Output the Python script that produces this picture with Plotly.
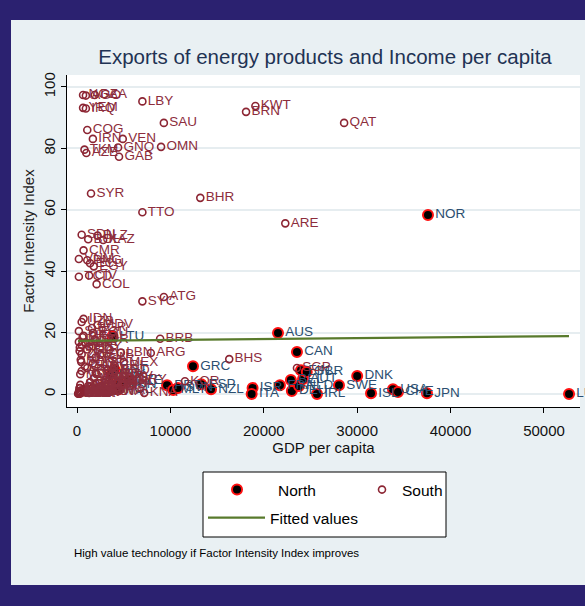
import plotly.graph_objects as go

# ---- data -------------------------------------------------------------
north_codes = ["NOR", "AUS", "CAN", "GRC", "LTU", "EST", "SVK", "CZE", "HUN", "POL",
               "PRT", "MLT", "SVN", "ESP", "NZL", "ISR", "ITA", "FRA", "DEU", "NLD",
               "AUT", "FIN", "GBR", "BEL", "IRL", "SWE", "DNK", "ISL", "USA", "CHE",
               "JPN", "LUX"]
north_gdp = [37580, 21520, 23550, 12420, 3800, 4000, 3700, 5500, 4600, 4400,
             9640, 10300, 10810, 13300, 14350, 18800, 18700, 21730, 23000, 23770,
             24200, 23980, 24600, 22900, 25700, 28050, 30000, 31480, 33830, 34370,
             37470, 52680]
north_fii = [58.3, 19.9, 13.7, 9.1, 18.8, 8.0, 6.5, 4.5, 3.2, 1.5,
             2.9, 1.3, 2.0, 3.2, 1.6, 2.0, 0.0, 2.9, 1.0, 2.6,
             4.9, 7.8, 7.2, 4.6, 0.0, 2.9, 5.9, 0.3, 1.6, 0.7,
             0.3, 0.0]

south_codes = ["NGA", "AGO", "DZA", "YEM", "IRQ", "LBY", "BRN", "KWT", "QAT", "SAU",
               "COG", "IRN", "VEN", "GNQ", "OMN", "GAB", "TKM", "AZE", "SYR", "BHR",
               "TTO", "ARE", "SDN", "BOL", "BLZ", "KAZ", "CMR", "VNM", "PNG", "ECU",
               "EGY", "TCD", "CIV", "COL", "SYC", "ATG", "BRB", "ARG", "BHS", "MEX",
               "KOR", "SGP", "KNA",
               "IDN", "UZB", "MDV", "BGR", "ROU", "UKR", "SLE", "GEO", "MOZ", "PAK",
               "KGZ", "BLR", "ZWE", "TUN", "MNG", "SEN", "JOR", "CRI", "CHN", "ALB",
               "LVA", "GRD", "THA", "PER", "BRA", "HRV", "MYS", "PAN", "URY", "CHL",
               "LCA", "ZAF", "MUS", "TUR", "DOM", "GTM", "SLV", "PHL", "IND", "HND",
               "NIC", "KEN", "TZA", "UGA", "ETH", "MWI", "BGD", "NPL", "GHA", "BEN",
               "MLI", "BFA", "MDG", "RWA", "LKA", "MAR", "FJI", "JAM", "MKD", "MDA",
               "ARM", "SWZ", "NAM", "BWA", "LSO", "GMB", "CPV", "DMA", "VCT", "GUY",
               "SUR", "PRY", "TGO", "CUB", "LBN"]
south_gdp = [650, 950, 1900, 650, 950, 7000, 18100, 19100, 28600, 9300,
             1100, 1700, 4900, 4400, 9000, 4500, 800, 1000, 1500, 13200,
             7000, 22300, 500, 1200, 2200, 2800, 700, 200, 1100, 1400,
             1800, 200, 1300, 2100, 7000, 9300, 8900, 7900, 16300, 5000,
             11560, 23550, 7200,
             700, 500, 2200, 1600, 1700, 700, 200, 600, 200, 500,
             300, 1100, 500, 2000, 400, 450, 1700, 4000, 850, 1100,
             3300, 4000, 2000, 2100, 3600, 4500, 3900, 3800, 6000, 4900,
             4300, 3000, 3700, 3000, 2500, 1700, 2100, 1000, 450, 900,
             750, 350, 270, 250, 120, 160, 360, 230, 260, 350,
             220, 220, 250, 230, 850, 1200, 2000, 3000, 1800, 350,
             500, 1400, 1800, 3300, 400, 320, 1300, 3500, 2900, 900,
             1900, 1300, 280, 2500, 4700]
south_fii = [97.4, 97.2, 97.4, 93.2, 93.0, 95.3, 91.9, 93.8, 88.3, 88.3,
             86.0, 83.1, 83.1, 80.3, 80.5, 77.3, 79.6, 78.5, 65.3, 63.9,
             59.2, 55.6, 51.9, 50.4, 51.6, 50.2, 46.8, 44.0, 43.6, 42.6,
             41.6, 38.2, 38.6, 35.8, 30.2, 31.6, 18.0, 13.4, 11.4, 10.4,
             4.2, 8.5, 0.4,
             24.5, 23.5, 22.5, 21.5, 20.0, 19.0, 20.5, 18.5, 17.0, 16.0,
             15.2, 14.5, 13.0, 12.0, 11.2, 10.5, 10.0, 9.3, 9.0, 8.5,
             8.0, 7.7, 7.0, 6.5, 6.2, 5.8, 5.5, 5.0, 4.7, 4.2,
             4.0, 3.7, 3.2, 2.9, 2.5, 2.2, 1.8, 1.5, 1.2, 0.9,
             0.6, 0.4, 0.2, 0.1, 0.1, 0.2, 0.5, 0.3, 2.0, 3.0,
             1.0, 0.5, 0.8, 0.3, 1.3, 2.6, 3.5, 4.5, 5.2, 6.5,
             7.5, 3.9, 1.4, 0.7, 0.3, 1.9, 0.4, 1.2, 0.9, 16.8,
             17.8, 15.5, 14.0, 12.8, 13.5]

fit_gdp = [100, 52680]
fit_fii = [17.3, 18.9]

x_ticks = [0, 10000, 20000, 30000, 40000, 50000]
x_tick_labels = ["0", "10000", "20000", "30000", "40000", "50000"]
y_ticks = [0, 20, 40, 60, 80, 100]
y_tick_labels = ["0", "20", "40", "60", "80", "100"]

# ---- styling ----------------------------------------------------------
W, H = 585, 606
ML, MR, MT, MB = 67, 5, 75, 199
PW, PH = W - ML - MR, H - MT - MB

FONT = "Liberation Sans, Arial, Helvetica, sans-serif"
PURPLE = "#2b2170"
PANEL = "#e9f0f3"
GRID = "#e6edf0"
NORTH_TXT = "#2b4e70"
SOUTH_TXT = "#8c2d3c"
FIT_CLR = "#587a2c"


def px_x(px):
    return (px - ML) / PW


def px_y(py):
    return (H - MB - py) / PH


fig = go.Figure()

fig.add_trace(go.Scatter(
    x=north_gdp, y=north_fii, text=north_codes, name="North",
    mode="markers+text", textposition="middle right",
    textfont=dict(family=FONT, size=13.5, color=NORTH_TXT),
    marker=dict(symbol="circle", size=10, color="black",
                line=dict(color="#ff1010", width=2)),
    legend="legend", cliponaxis=False,
))

fig.add_trace(go.Scatter(
    x=south_gdp, y=south_fii, text=south_codes, name="South",
    mode="markers+text", textposition="middle right",
    textfont=dict(family=FONT, size=13.5, color=SOUTH_TXT),
    marker=dict(symbol="circle-open", size=7, color="#8c2533",
                line=dict(width=1.6)),
    legend="legend2", cliponaxis=False,
))

fig.add_trace(go.Scatter(
    x=fit_gdp, y=fit_fii, name="Fitted values", mode="lines",
    line=dict(color=FIT_CLR, width=2.2),
    legend="legend3",
))

# panel, plot background and legend frame
shapes = [
    dict(type="rect", xref="paper", yref="paper", layer="below",
         x0=px_x(11), x1=px_x(W + 2), y0=px_y(585), y1=px_y(20),
         fillcolor=PANEL, line=dict(width=0)),
    dict(type="rect", xref="paper", yref="paper", layer="below",
         x0=0, x1=1, y0=0, y1=1, fillcolor="white", line=dict(width=0)),
    dict(type="rect", xref="paper", yref="paper", layer="below",
         x0=px_x(203), x1=px_x(446), y0=px_y(537), y1=px_y(472),
         fillcolor="white", line=dict(color="black", width=1)),
]

legend_common = dict(bgcolor="rgba(0,0,0,0)", borderwidth=0,
                     font=dict(family=FONT, size=15.5, color="black"),
                     xanchor="left", yanchor="middle", itemsizing="trace")

fig.update_layout(
    width=W, height=H,
    margin=dict(l=ML, r=MR, t=MT, b=MB, pad=0),
    paper_bgcolor=PURPLE,
    plot_bgcolor="white",
    shapes=shapes,
    showlegend=True,
    legend=dict(**legend_common, x=px_x(196), y=px_y(490), itemwidth=72),
    legend2=dict(**legend_common, x=px_x(362), y=px_y(490)),
    legend3=dict(**legend_common, x=px_x(203), y=px_y(518), itemwidth=57),
    title=dict(text="Exports of energy products and Income per capita",
               x=325 / W, xref="container", xanchor="center",
               y=1 - 57 / H, yref="container", yanchor="middle",
               font=dict(family=FONT, size=20.5, color="#1f3354")),
    xaxis=dict(range=[-1071, 53855], tickvals=x_ticks, ticktext=x_tick_labels,
               ticks="outside", ticklen=5, tickcolor="black",
               ticklabelstandoff=5,
               showline=True, linecolor="black", linewidth=1,
               showgrid=False, zeroline=False,
               tickfont=dict(family=FONT, size=15, color="#111"),
               title=dict(text="GDP per capita", standoff=4,
                          font=dict(family=FONT, size=15, color="#111"))),
    yaxis=dict(range=[-4.2, 103.9], tickvals=y_ticks, ticktext=y_tick_labels,
               tickangle=-90,
               ticks="outside", ticklen=5, tickcolor="black",
               showline=True, linecolor="black", linewidth=1,
               showgrid=True, gridcolor=GRID, gridwidth=2,
               zeroline=False,
               tickfont=dict(family=FONT, size=15, color="#111"),
               title=dict(text="Factor Intensity Index", standoff=2,
                          font=dict(family=FONT, size=15, color="#222"))),
    annotations=[dict(
        text="High value technology if Factor Intensity Index improves",
        xref="paper", yref="paper", x=px_x(72), y=px_y(553),
        xanchor="left", yanchor="middle", showarrow=False,
        font=dict(family=FONT, size=11.5, color="black"))],
)

fig.write_html("out.html")
